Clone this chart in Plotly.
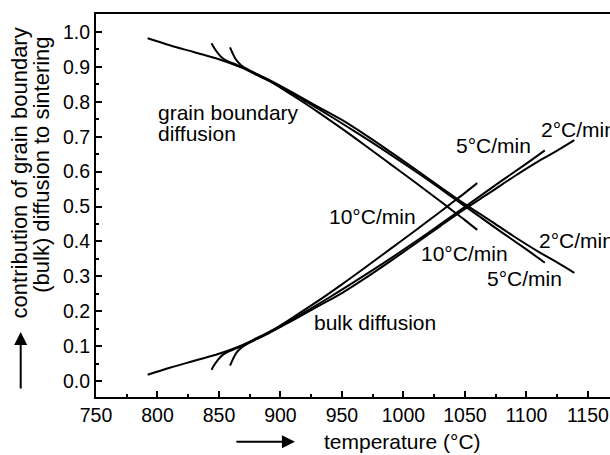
import plotly.graph_objects as go

# ---- data ----
gb_2_T = [792, 810, 830, 850, 870, 890, 910, 930, 950, 970, 990, 1010, 1030, 1050, 1070, 1090, 1110, 1125, 1139]
gb_2_v = [0.982, 0.962, 0.942, 0.922, 0.896, 0.864, 0.826, 0.787, 0.748, 0.703, 0.655, 0.606, 0.556, 0.507, 0.461, 0.414, 0.370, 0.340, 0.310]

gb_5_T = [844, 846, 849, 853, 858, 865, 880, 900, 920, 940, 960, 980, 1000, 1020, 1040, 1060, 1080, 1100, 1115]
gb_5_v = [0.968, 0.955, 0.940, 0.925, 0.915, 0.905, 0.878, 0.843, 0.802, 0.760, 0.716, 0.671, 0.624, 0.576, 0.526, 0.476, 0.426, 0.377, 0.339]

gb_10_T = [859, 861, 864, 868, 875, 890, 910, 930, 950, 970, 990, 1010, 1030, 1040, 1050, 1060]
gb_10_v = [0.956, 0.940, 0.920, 0.905, 0.890, 0.862, 0.818, 0.772, 0.723, 0.672, 0.620, 0.568, 0.515, 0.488, 0.461, 0.433]

bk_2_T = [792, 810, 830, 850, 870, 890, 910, 930, 950, 970, 990, 1010, 1030, 1050, 1070, 1090, 1110, 1125, 1139]
bk_2_v = [0.018, 0.038, 0.058, 0.078, 0.104, 0.136, 0.174, 0.213, 0.252, 0.297, 0.345, 0.394, 0.444, 0.493, 0.539, 0.586, 0.630, 0.660, 0.690]

bk_5_T = [844, 846, 849, 853, 858, 865, 880, 900, 920, 940, 960, 980, 1000, 1020, 1040, 1060, 1080, 1100, 1115]
bk_5_v = [0.032, 0.045, 0.060, 0.075, 0.085, 0.095, 0.122, 0.157, 0.198, 0.240, 0.284, 0.329, 0.376, 0.424, 0.474, 0.524, 0.574, 0.623, 0.661]

bk_10_T = [859, 861, 864, 868, 875, 890, 910, 930, 950, 970, 990, 1010, 1030, 1040, 1050, 1060]
bk_10_v = [0.044, 0.060, 0.080, 0.095, 0.110, 0.138, 0.182, 0.228, 0.277, 0.328, 0.380, 0.432, 0.485, 0.512, 0.539, 0.567]

x_ticks = [750, 800, 850, 900, 950, 1000, 1050, 1100, 1150]
y_ticks = [0.0, 0.1, 0.2, 0.3, 0.4, 0.5, 0.6, 0.7, 0.8, 0.9, 1.0]

FONT = "Liberation Sans, Arial, Helvetica, sans-serif"

fig = go.Figure()
for T, v in [(gb_2_T, gb_2_v), (gb_5_T, gb_5_v), (gb_10_T, gb_10_v),
             (bk_2_T, bk_2_v), (bk_5_T, bk_5_v), (bk_10_T, bk_10_v)]:
    fig.add_trace(go.Scatter(x=T, y=v, mode="lines",
                             line=dict(color="black", width=2, shape="spline", smoothing=1.0),
                             showlegend=False, hoverinfo="skip"))

labels = [
    ("grain boundary", 799.6, 0.769, "left"),
    ("diffusion", 799.6, 0.709, "left"),
    ("5°C/min", 1073.6, 0.675, "center"),
    ("2°C/min", 1111.0, 0.722, "left"),
    ("10°C/min", 938.6, 0.470, "left"),
    ("10°C/min", 1013.4, 0.366, "left"),
    ("2°C/min", 1109.3, 0.404, "left"),
    ("5°C/min", 1067.0, 0.294, "left"),
    ("bulk diffusion", 926.4, 0.167, "left"),
]
for t, x, y, xa in labels:
    fig.add_annotation(x=x, y=y, xref="x", yref="y", text=t, showarrow=False,
                       xanchor=xa, yanchor="middle", borderpad=0,
                       font=dict(family=FONT, size=21, color="black"))

# axis titles as annotations
fig.add_annotation(x=-0.147, y=0.585, xref="paper", yref="paper",
                   text="contribution of grain boundary", textangle=-90, showarrow=False,
                   xanchor="center", yanchor="middle", font=dict(family=FONT, size=22, color="black"))
fig.add_annotation(x=-0.106, y=0.605, xref="paper", yref="paper",
                   text="(bulk) diffusion to sintering", textangle=-90, showarrow=False,
                   xanchor="center", yanchor="middle", font=dict(family=FONT, size=22, color="black"))
fig.add_annotation(x=0.4397, y=-0.117, xref="paper", yref="paper",
                   text="temperature (°C)", showarrow=False, xanchor="left", yanchor="middle",
                   font=dict(family=FONT, size=21, color="black"))
# arrows
fig.add_annotation(x=0.387, y=-0.117, xref="paper", yref="paper", text="", showarrow=True,
                   ax=-60, ay=0, arrowhead=2, arrowsize=1.3, arrowwidth=2, arrowcolor="black")
fig.add_annotation(x=-0.1465, y=0.17, xref="paper", yref="paper", text="", showarrow=True,
                   ax=0, ay=58, arrowhead=2, arrowsize=1.3, arrowwidth=2, arrowcolor="black")

fig.update_xaxes(range=[750, 1168], tickvals=x_ticks, ticks="inside", ticklen=6, tickwidth=1.5,
                 tickcolor="black", showline=True, linecolor="black", linewidth=2, mirror=True,
                 showgrid=False, zeroline=False,
                 minor=dict(dtick=25, tick0=750, ticks="inside", ticklen=3, tickwidth=1.5, tickcolor="black"),
                 tickfont=dict(family=FONT, size=19.5, color="black"))
fig.update_yaxes(range=[-0.0458, 1.0516], tickvals=y_ticks, tickformat=".1f", ticks="inside", ticklen=6,
                 tickwidth=1.5, tickcolor="black", showline=True, linecolor="black", linewidth=2,
                 showgrid=False, zeroline=False,
                 minor=dict(dtick=0.05, tick0=0, ticks="inside", ticklen=3, tickwidth=1.5, tickcolor="black"),
                 tickfont=dict(family=FONT, size=19.5, color="black"))

fig.update_layout(width=610, height=455, margin=dict(l=96, r=0, t=14, b=58),
                  plot_bgcolor="white", paper_bgcolor="white")
fig.write_html("out.html")
